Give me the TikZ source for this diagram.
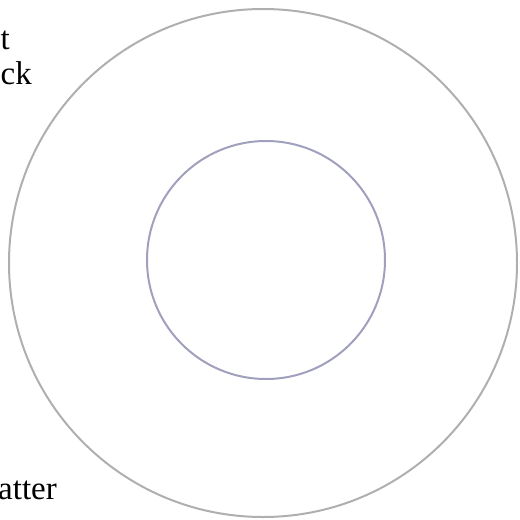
\documentclass[tikz,border=0pt]{standalone}
\usepackage{fontspec}
\setmainfont{Liberation Serif}
\begin{document}
\begin{tikzpicture}[x=1pt,y=-1pt,
  ring/.style={draw=#1,line width=2pt},
  lbl/.style={inner sep=0pt,anchor=base east,font=\fontsize{33}{37}\selectfont}]
\useasboundingbox (0,0) rectangle (520,520);
\definecolor{outerc}{RGB}{175,175,175}
\definecolor{innerc}{RGB}{160,160,190}
\node[ring=outerc,circle,minimum size=508pt,inner sep=0pt] (outer) at (263,263) {};
\node[ring=innerc,circle,minimum size=238pt,inner sep=0pt] (inner) at (266,260) {};
\node[lbl] (t1) at (10,49) {t};
\node[lbl] (t2) at (32,84) {ck};
\node[lbl] (t3) at (57,499) {atter};
\end{tikzpicture}
\end{document}
